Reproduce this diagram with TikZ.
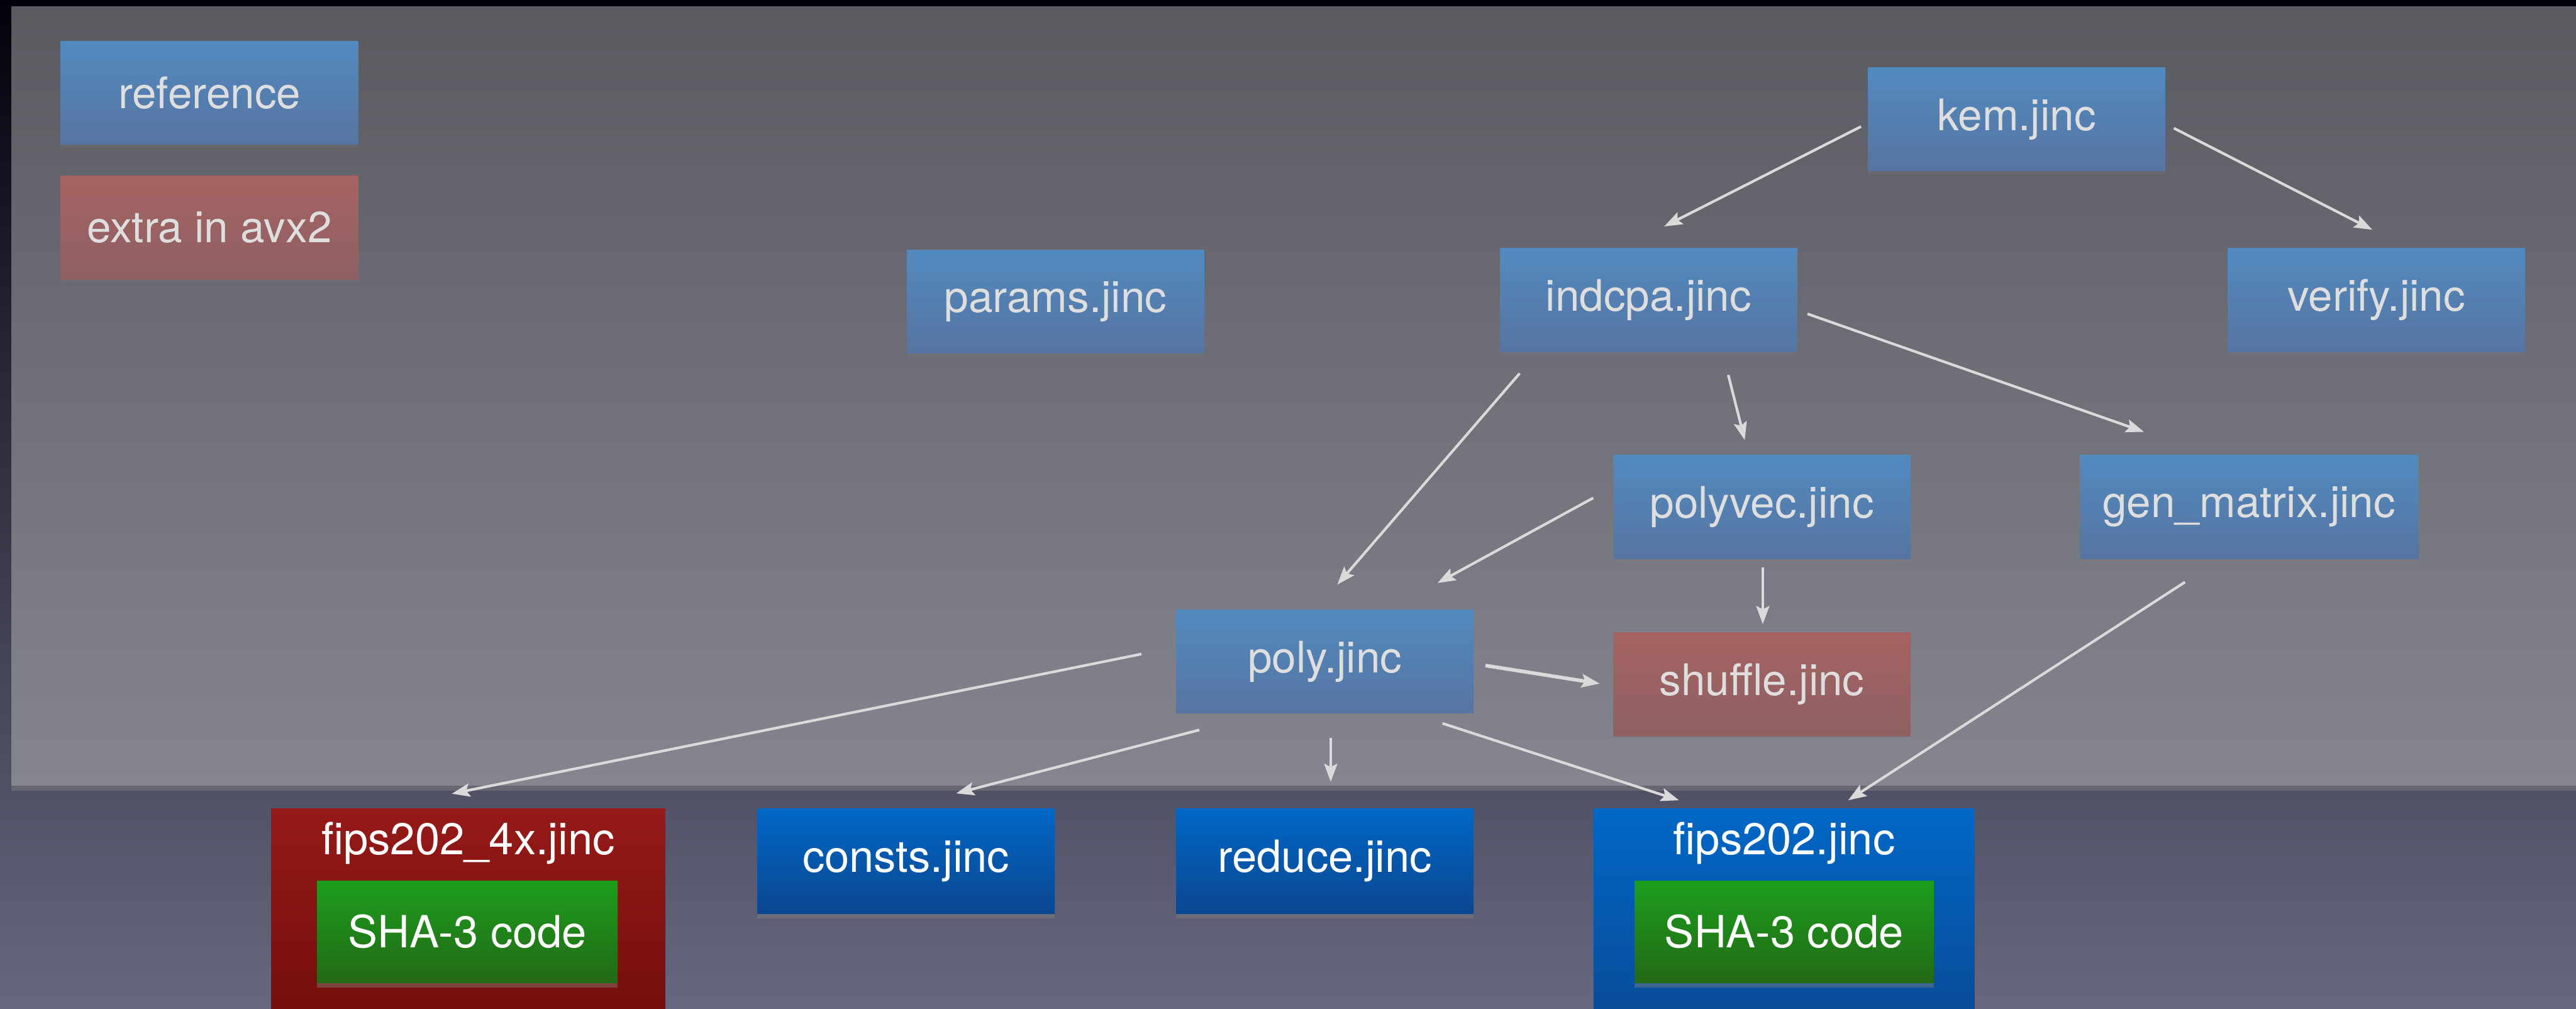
\documentclass[tikz,border=0pt]{standalone}
\usepackage{fontspec}
\setmainfont{TeX Gyre Heros}
\usetikzlibrary{arrows.meta,shadows,calc}

% backdrop
\definecolor{bgtop}{HTML}{02020C}
\definecolor{bgmid}{HTML}{2A2A44}
\definecolor{bgbot}{HTML}{67677F}
\definecolor{paneltop}{HTML}{5A5B61}
\definecolor{panelbot}{HTML}{84858F}
% module boxes
\definecolor{reftop}{HTML}{528ABF}
\definecolor{refbot}{HTML}{5674A1}
\definecolor{extratop}{HTML}{A66262}
\definecolor{extrabot}{HTML}{8E6163}
\definecolor{toptext}{HTML}{DEDEDE}
\definecolor{deeptop}{HTML}{0067C6}
\definecolor{deepbot}{HTML}{0B4690}
\definecolor{crimsontop}{HTML}{951A18}
\definecolor{crimsonbot}{HTML}{6E0C08}
\definecolor{shatop}{HTML}{1C9E1D}
\definecolor{shabot}{HTML}{236816}
\definecolor{wire}{HTML}{DADADA}

\begin{document}
\begin{tikzpicture}[x=1pt,y=-1pt,
  modbox/.style={rectangle, inner sep=0pt, minimum width=181pt, minimum height=63pt,
    text=toptext, font=\fontsize{26.5}{30}\selectfont,
    drop shadow={opacity=0.18, shadow xshift=0pt, shadow yshift=-2pt}},
  refmod/.style={modbox, top color=reftop, bottom color=refbot},
  extramod/.style={modbox, top color=extratop, bottom color=extrabot},
  deepmod/.style={rectangle, inner sep=0pt, minimum width=181pt, minimum height=64pt,
    text=white, font=\fontsize{27}{31}\selectfont,
    top color=deeptop, bottom color=deepbot,
    drop shadow={opacity=0.45, shadow xshift=0pt, shadow yshift=-3pt}},
  holder/.style={rectangle, inner sep=0pt, minimum height=150pt,
    drop shadow={opacity=0.45, shadow xshift=0pt, shadow yshift=-3pt}},
  holdlabel/.style={inner sep=0pt, text=white, font=\fontsize{27}{31}\selectfont},
  shabox/.style={rectangle, inner sep=0pt, minimum width=183pt, minimum height=62pt,
    text=white, font=\fontsize{27}{31}\selectfont,
    top color=shatop, bottom color=shabot,
    drop shadow={opacity=0.45, shadow xshift=0pt, shadow yshift=-3pt}},
  conn/.style={draw=wire, line width=1.6pt,
    -{Stealth[length=11pt,width=8pt,inset=2pt,fill=wire]}},
]
\useasboundingbox (0,0) rectangle (1568,614);
\clip (0,0) rectangle (1568,614);

% backdrop and light panel
\shade[top color=bgtop, middle color=bgmid, bottom color=bgbot] (0,0) rectangle (1568,614);
\shade[top color=paneltop, bottom color=panelbot,
  drop shadow={opacity=0.5, shadow xshift=0pt, shadow yshift=-3pt}] (7,4) rectangle (1575,478);

% legend
\node[refmod]   (legref)   at (127.5,56.5)  {reference};
\node[extramod] (legextra) at (127.5,138.5) {extra in avx2};

% reference modules
\node[refmod] (params)  at (642.5,183.5)  {params.jinc};
\node[refmod] (indcpa)  at (1003.5,182.5) {indcpa.jinc};
\node[refmod] (kem)     at (1227.5,72.5)  {kem.jinc};
\node[refmod] (verify)  at (1446.5,182.5) {verify.jinc};
\node[refmod] (polyvec) at (1072.5,308.5) {polyvec.jinc};
\node[refmod, minimum width=206pt] (genmatrix) at (1369,308.5) {gen\_matrix.jinc};
\node[refmod] (poly)    at (806.5,402.5)  {poly.jinc};
\node[extramod] (shuffle) at (1072.5,416.5) {shuffle.jinc};

% lower row
\node[deepmod] (consts) at (551.5,524) {consts.jinc};
\node[deepmod] (reduce) at (806.5,524) {reduce.jinc};

\node[holder, minimum width=240pt, top color=crimsontop, bottom color=crimsonbot,
  anchor=north] (fipsfour) at (285,492) {};
\node[holdlabel] (fipsfourlbl) at (285,513) {fips202\_4x.jinc};
\node[shabox] (shafour) at (284.5,567) {SHA-3 code};

\node[holder, minimum width=232pt, top color=deeptop, bottom color=deepbot,
  anchor=north] (fips) at (1086,492) {};
\node[holdlabel] (fipslbl) at (1086,513) {fips202.jinc};
\node[shabox, minimum width=182pt] (shaone) at (1086,567) {SHA-3 code};

% dependencies
\draw[conn] ($(kem.west)+(-4,4.5)$)        -- ($(indcpa.north)+(9.5,-13)$);
\draw[conn] ($(kem.east)+(5,5.5)$)         -- ($(verify.north)+(-2.5,-11)$);
\draw[conn] ($(indcpa.east)+(6,8.5)$)      -- ($(genmatrix.north)+(-64,-14)$);
\draw[conn] ($(indcpa.south)+(48.5,14)$)   -- ($(polyvec.north)+(-10.5,-9)$);
\draw[conn] ($(indcpa.south)+(-78.5,13)$)  -- ($(poly.north)+(7.5,-15)$);
\draw[conn] ($(polyvec.west)+(-12,-5.5)$)  -- ($(poly.north)+(68.5,-16)$);
\draw[conn] ($(polyvec.south)+(0.5,5)$)    -- ($(shuffle.north)+(0.5,-5)$);
\draw[conn, line width=2.2pt] ($(poly.east)+(7,2.5)$) -- ($(shuffle.west)+(-8,-0.5)$);
\draw[conn] ($(genmatrix.south)+(-39,14)$) -- ($(fips.north)+(39,-5)$);
\draw[conn] ($(poly.west)+(-21,-4.5)$)     -- ($(fipsfour.north)+(-10,-9)$);
\draw[conn] ($(poly.south)+(-76.5,10)$)    -- ($(consts.north)+(30.5,-9)$);
\draw[conn] ($(poly.south)+(3.5,15)$)      -- ($(reduce.north)+(3.5,-16)$);
\draw[conn] ($(poly.south)+(71.5,6)$)      -- ($(fips.north)+(-64,-5)$);
\end{tikzpicture}
\end{document}
